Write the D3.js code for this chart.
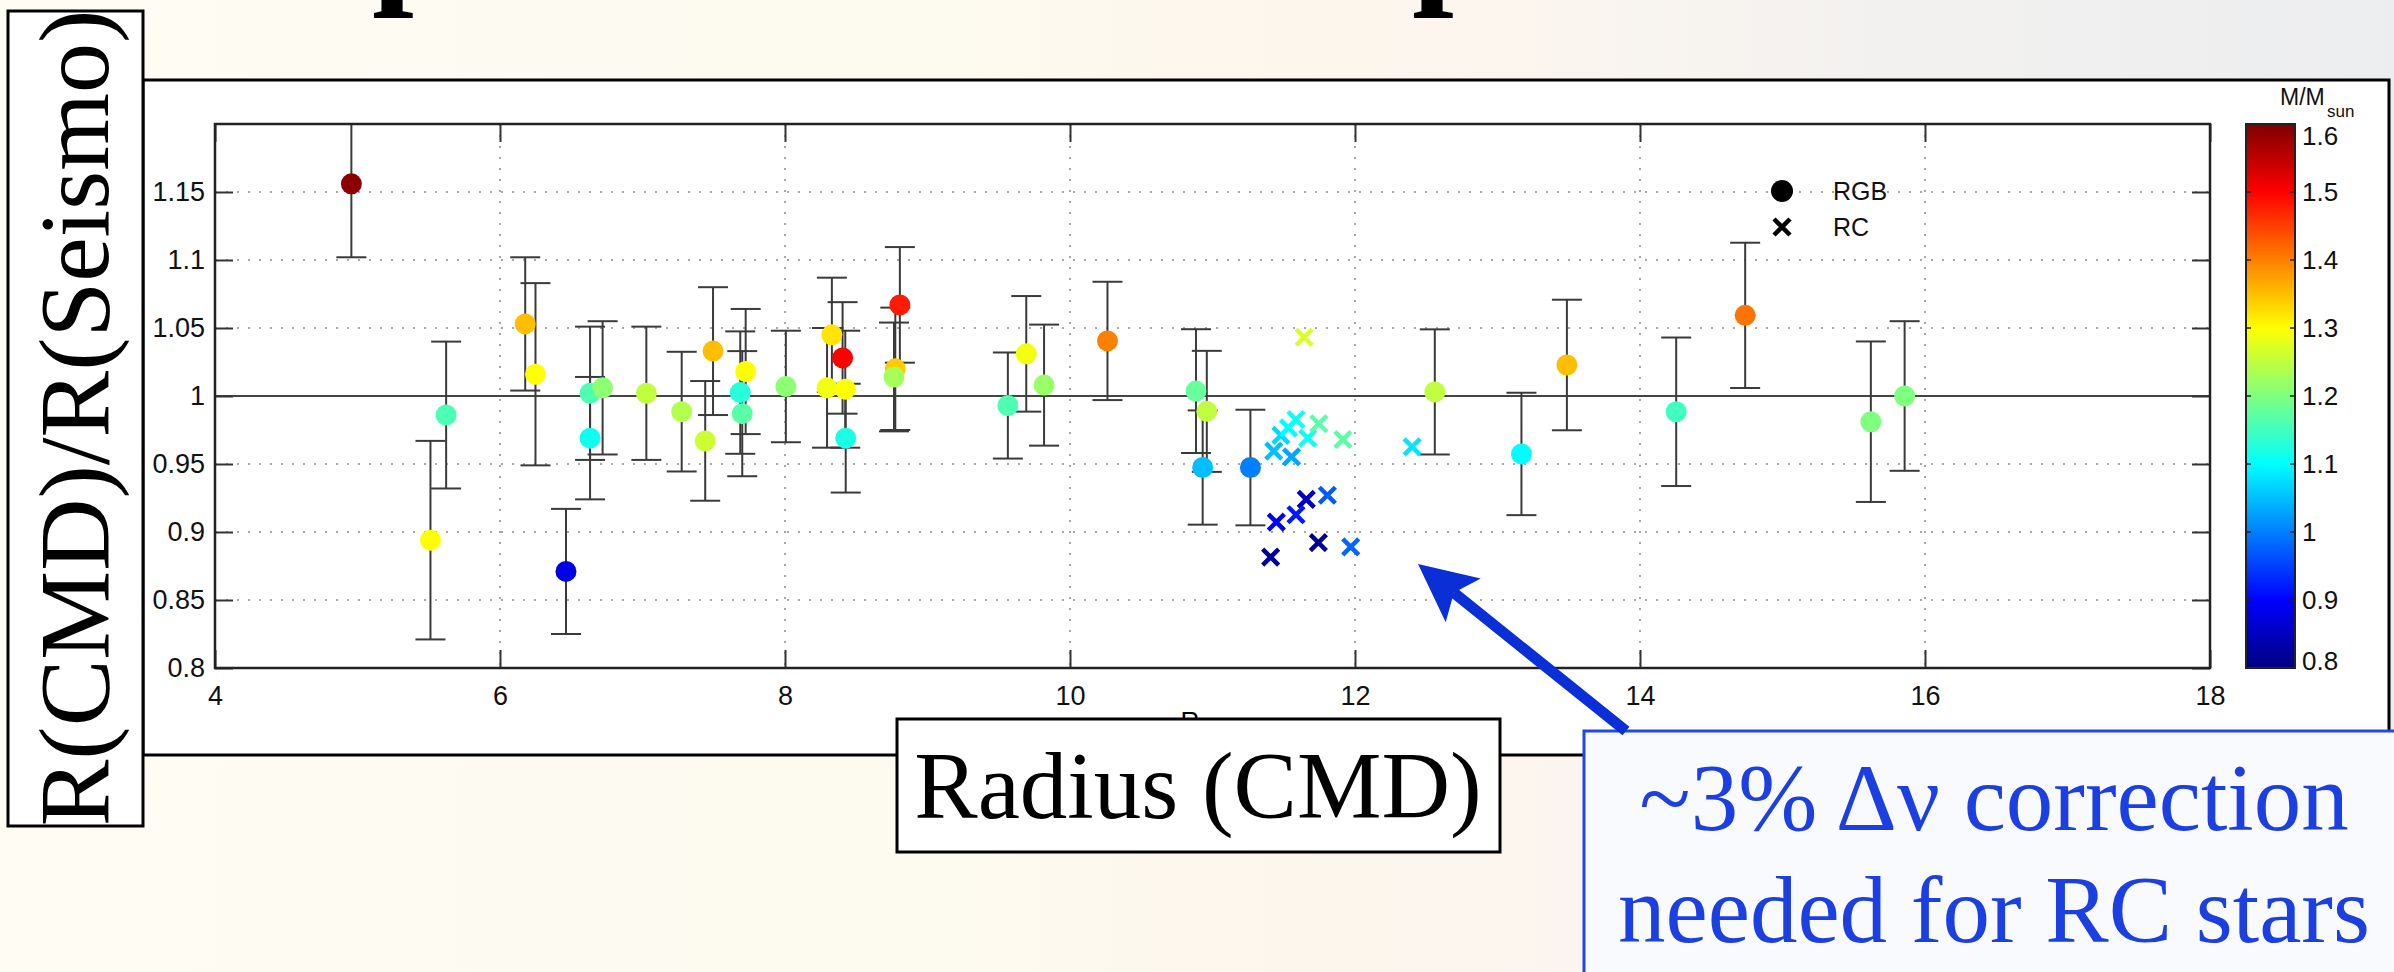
<!DOCTYPE html>
<html>
<head>
<meta charset="utf-8">
<script src="https://cdn.jsdelivr.net/npm/d3@7"></script>
<style>
html,body{margin:0;padding:0;overflow:hidden;background:#fdfbf3;}
svg{display:block;}
</style>
</head>
<body>
<svg id="chart" width="2394" height="972"></svg>
<script>
// ---------------- DATA ----------------
// RGB stars (filled circles with error bars)
const rgbRadius = [4.957, 5.622, 5.512, 6.177, 6.249, 6.463, 6.632, 6.632, 6.720, 7.027,
                   7.275, 7.440, 7.495, 7.724, 7.686, 7.700, 8.006, 8.295, 8.329, 8.404,
                   8.423, 8.426, 8.806, 8.774, 8.765, 9.564, 9.693, 9.818, 10.263, 10.884,
                   10.960, 10.931, 11.266, 12.560, 13.168, 13.487, 14.254, 14.738, 15.620, 15.857];
const rgbRatio  = [1.156, 0.986, 0.894, 1.053, 1.016, 0.871, 1.002, 0.969, 1.006, 1.002,
                   0.9885, 0.967, 1.033, 1.018, 1.0025, 0.987, 1.007, 1.006, 1.045, 1.028,
                   1.005, 0.969, 1.067, 1.020, 1.014, 0.993, 1.031, 1.008, 1.0405, 1.0036,
                   0.9887, 0.9474, 0.9474, 1.003, 0.9574, 1.0228, 0.9884, 1.0593, 0.9811, 1.000];
const rgbErr    = [0.054, 0.054, 0.073, 0.049, 0.067, 0.046, 0.049, 0.045, 0.049, 0.049,
                   0.044, 0.044, 0.047, 0.046, 0.045, 0.046, 0.041, 0.044, 0.042, 0.041,
                   0.043, 0.040, 0.0425, 0.045, 0.040, 0.039, 0.0425, 0.0445, 0.0435, 0.0455,
                   0.0445, 0.042, 0.0425, 0.046, 0.045, 0.048, 0.0546, 0.0534, 0.059, 0.055];
const rgbMass   = [1.59, 1.16, 1.30, 1.35, 1.30, 0.88, 1.16, 1.11, 1.21, 1.25,
                   1.24, 1.26, 1.35, 1.30, 1.13, 1.17, 1.21, 1.29, 1.32, 1.50,
                   1.30, 1.12, 1.48, 1.34, 1.23, 1.16, 1.29, 1.22, 1.40, 1.18,
                   1.25, 1.05, 1.00, 1.25, 1.10, 1.35, 1.15, 1.41, 1.20, 1.20];

// RC stars (crosses)
const rcRadius = [11.643, 11.430, 11.480, 11.533, 11.586, 11.555, 11.668, 11.746, 11.915,
                  12.401, 11.658, 11.806, 11.586, 11.448, 11.743, 11.970, 11.408];
const rcRatio  = [1.0432, 0.9595, 0.9711, 0.9766, 0.9827, 0.9553, 0.9690, 0.9796, 0.9680,
                  0.9626, 0.9240, 0.9270, 0.9127, 0.9073, 0.8922, 0.8891, 0.8815];
const rcMass   = [1.27, 1.05, 1.07, 1.10, 1.11, 1.03, 1.11, 1.17, 1.17,
                  1.08, 0.85, 0.97, 0.92, 0.89, 0.82, 0.98, 0.82];

// Axis ticks
const xTicks = [4, 6, 8, 10, 12, 14, 16, 18];
const yTicks = [0.8, 0.85, 0.9, 0.95, 1, 1.05, 1.1, 1.15];
const cbTicks = [0.8, 0.9, 1.0, 1.1, 1.2, 1.3, 1.4, 1.5, 1.6];
const legendLabels = ["RGB", "RC"];

// ---------------- SETUP ----------------
const svg = d3.select("#chart");
const W = 2394, H = 972;
const plot = {l: 215, r: 2210, t: 124, b: 668};

const x = d3.scaleLinear().domain([4, 18]).range([plot.l, plot.r]);
const y = d3.scaleLinear().domain([0.8, 1.2]).range([plot.b, plot.t]);
const massScale = d3.scaleLinear().domain([0.8, 1.6]).range([0, 1]);

// MATLAB "jet" colormap
const jetStops = [[0, "#000080"], [0.125, "#0000ff"], [0.375, "#00ffff"], [0.625, "#ffff00"], [0.875, "#ff0000"], [1, "#800000"]];
const jet = d3.scaleLinear().domain(jetStops.map(d => d[0])).range(jetStops.map(d => d[1])).interpolate(d3.interpolateRgb).clamp(true);
const massColor = m => jet(massScale(m));

const defs = svg.append("defs");

// Background gradient (slide background)
const bg = defs.append("linearGradient").attr("id", "bg").attr("x1", 0).attr("x2", 1).attr("y1", 0).attr("y2", 0);
[[0, "#fefcf3"], [0.4, "#fdfaf0"], [0.55, "#fdf6ec"], [0.65, "#fbf5ef"], [0.8, "#f2f1ef"], [1, "#ecedef"]]
  .forEach(s => bg.append("stop").attr("offset", s[0]).attr("stop-color", s[1]));
svg.append("rect").attr("width", W).attr("height", H).attr("fill", "url(#bg)");

// fragments of the slide title (cut off at the top)
svg.append("g").attr("font-family", "Liberation Serif, serif").attr("font-weight", "bold")
  .attr("font-size", 150).attr("fill", "#000")
  .selectAll("text").data([{x: 372, t: "p"}, {x: 1412, t: "p"}]).join("text")
  .attr("x", d => d.x).attr("y", -14).text(d => d.t);

// Main white panel
svg.append("rect").attr("x", 143).attr("y", 80).attr("width", 2246).attr("height", 675)
  .attr("fill", "#fff").attr("stroke", "#000").attr("stroke-width", 3);

// ---------------- PLOT ----------------
defs.append("clipPath").attr("id", "clipPlot").append("rect")
  .attr("x", plot.l).attr("y", plot.t).attr("width", plot.r - plot.l).attr("height", plot.b - plot.t);

const g = svg.append("g");

// dotted grid
g.append("g").selectAll("line").data(xTicks.filter(d => d > 4 && d < 18)).join("line")
  .attr("x1", d => x(d)).attr("x2", d => x(d)).attr("y1", plot.t).attr("y2", plot.b)
  .attr("stroke", "#8a8a8a").attr("stroke-width", 1.5).attr("stroke-dasharray", "2,9");
g.append("g").selectAll("line").data(yTicks.filter(d => d > 0.8 && d !== 1)).join("line")
  .attr("x1", plot.l).attr("x2", plot.r).attr("y1", d => y(d)).attr("y2", d => y(d))
  .attr("stroke", "#8a8a8a").attr("stroke-width", 1.5).attr("stroke-dasharray", "2,9");

// unity line
g.append("line").attr("x1", plot.l).attr("x2", plot.r).attr("y1", y(1)).attr("y2", y(1))
  .attr("stroke", "#444").attr("stroke-width", 2.2);

// axes with inward ticks on all sides
const tickLen = 18;
const axB = d3.axisBottom(x).tickValues(xTicks).tickSize(-tickLen).tickPadding(18).tickFormat(d3.format("d"));
const axT = d3.axisTop(x).tickValues(xTicks).tickSize(-tickLen).tickFormat("");
const axL = d3.axisLeft(y).tickValues(yTicks).tickSize(-tickLen).tickPadding(10).tickFormat(d => String(+d.toFixed(2)));
const axR = d3.axisRight(y).tickValues(yTicks).tickSize(-tickLen).tickFormat("");

function styleAxis(sel) {
  sel.select(".domain").remove();
  sel.selectAll(".tick line").attr("stroke", "#333").attr("stroke-width", 2);
  sel.selectAll("text").attr("font-family", "Liberation Sans, Arial, sans-serif").attr("font-size", 27).attr("fill", "#111");
}
g.append("g").attr("transform", `translate(0,${plot.b})`).call(axB).call(styleAxis);
g.append("g").attr("transform", `translate(0,${plot.t})`).call(axT).call(styleAxis);
g.append("g").attr("transform", `translate(${plot.l},0)`).call(axL).call(styleAxis);
g.append("g").attr("transform", `translate(${plot.r},0)`).call(axR).call(styleAxis);

// x-axis label (mostly hidden behind the "Radius (CMD)" box)
svg.append("text").attr("x", 1190).attr("y", 730).attr("text-anchor", "middle")
  .attr("font-family", "Liberation Sans, Arial, sans-serif").attr("font-size", 26).text("R");

// error bars
const rgb = rgbRadius.map((r, i) => ({r, v: rgbRatio[i], e: rgbErr[i], m: rgbMass[i]}));
const rc = rcRadius.map((r, i) => ({r, v: rcRatio[i], m: rcMass[i]}));

const eb = g.append("g").attr("clip-path", "url(#clipPlot)").attr("stroke", "#3a3a3a").attr("stroke-width", 2);
const capW = 15;
eb.selectAll("line.v").data(rgb).join("line").attr("class", "v")
  .attr("x1", d => x(d.r)).attr("x2", d => x(d.r)).attr("y1", d => y(d.v - d.e)).attr("y2", d => y(d.v + d.e));
eb.selectAll("line.lo").data(rgb).join("line").attr("class", "lo")
  .attr("x1", d => x(d.r) - capW).attr("x2", d => x(d.r) + capW).attr("y1", d => y(d.v - d.e)).attr("y2", d => y(d.v - d.e));
eb.selectAll("line.hi").data(rgb).join("line").attr("class", "hi")
  .attr("x1", d => x(d.r) - capW).attr("x2", d => x(d.r) + capW).attr("y1", d => y(d.v + d.e)).attr("y2", d => y(d.v + d.e));

// RGB points
g.append("g").selectAll("circle").data(rgb).join("circle")
  .attr("cx", d => x(d.r)).attr("cy", d => y(d.v)).attr("r", 10.5).attr("fill", d => massColor(d.m));

// RC crosses
const cs = 8;
const rcG = g.append("g").attr("stroke-width", 4.5).attr("stroke-linecap", "butt");
rcG.selectAll("path").data(rc).join("path")
  .attr("d", d => { const cx = x(d.r), cy = y(d.v);
    return `M${cx - cs},${cy - cs}L${cx + cs},${cy + cs}M${cx - cs},${cy + cs}L${cx + cs},${cy - cs}`; })
  .attr("stroke", d => massColor(d.m)).attr("fill", "none");

// frame
g.append("rect").attr("x", plot.l).attr("y", plot.t).attr("width", plot.r - plot.l).attr("height", plot.b - plot.t)
  .attr("fill", "none").attr("stroke", "#222").attr("stroke-width", 2.5);

// legend
const leg = g.append("g");
const legX = 1782, legY0 = 191, legDy = 36;
leg.append("circle").attr("cx", legX).attr("cy", legY0).attr("r", 11).attr("fill", "#000");
leg.append("path").attr("d", `M${legX - 8},${legY0 + legDy - 8}L${legX + 8},${legY0 + legDy + 8}M${legX - 8},${legY0 + legDy + 8}L${legX + 8},${legY0 + legDy - 8}`)
  .attr("stroke", "#000").attr("stroke-width", 4.5);
leg.selectAll("text").data(legendLabels).join("text")
  .attr("x", 1833).attr("y", (d, i) => legY0 + i * legDy + 9)
  .attr("font-family", "Liberation Sans, Arial, sans-serif").attr("font-size", 25).attr("fill", "#111").text(d => d);

// ---------------- COLORBAR ----------------
const cb = {l: 2246, r: 2295};
const cy = d3.scaleLinear().domain([0.8, 1.6]).range([plot.b, plot.t]);
const grad = defs.append("linearGradient").attr("id", "jet").attr("x1", 0).attr("x2", 0).attr("y1", 1).attr("y2", 0);
jetStops.forEach(s => grad.append("stop").attr("offset", s[0]).attr("stop-color", s[1]));
svg.append("rect").attr("x", cb.l).attr("y", plot.t).attr("width", cb.r - cb.l).attr("height", plot.b - plot.t)
  .attr("fill", "url(#jet)").attr("stroke", "#222").attr("stroke-width", 2);
const cbG = svg.append("g");
cbG.selectAll("line.l").data(cbTicks).join("line").attr("x1", cb.l).attr("x2", cb.l + 5)
  .attr("y1", d => cy(d)).attr("y2", d => cy(d)).attr("stroke", "#222").attr("stroke-width", 1.5);
cbG.selectAll("line.r").data(cbTicks).join("line").attr("x1", cb.r - 5).attr("x2", cb.r)
  .attr("y1", d => cy(d)).attr("y2", d => cy(d)).attr("stroke", "#222").attr("stroke-width", 1.5);
// end labels are nudged inside the bar's span, as in the reference
const cbLabelY = d => d === 1.6 ? cy(d) + 21 : d === 0.8 ? cy(d) + 2 : cy(d) + 9;
cbG.selectAll("text").data(cbTicks).join("text").attr("x", 2302).attr("y", cbLabelY)
  .attr("font-family", "Liberation Sans, Arial, sans-serif").attr("font-size", 26).attr("fill", "#111")
  .text(d => String(+d.toFixed(1)));
const cbT = svg.append("text").attr("font-family", "Liberation Sans, Arial, sans-serif").attr("fill", "#111");
cbT.append("tspan").attr("x", 2280).attr("y", 105).attr("font-size", 23).text("M/M");
cbT.append("tspan").attr("x", 2327).attr("y", 117).attr("font-size", 17).text("sun");

// ---------------- OVERLAY BOXES ----------------
// y-label box
svg.append("rect").attr("x", 8).attr("y", 11).attr("width", 135).attr("height", 815)
  .attr("fill", "#fff").attr("stroke", "#000").attr("stroke-width", 3);
svg.append("text").attr("transform", "translate(108,418) rotate(-90)").attr("text-anchor", "middle")
  .attr("font-family", "Liberation Serif, Times New Roman, serif").attr("font-size", 100).attr("fill", "#000")
  .text("R(CMD)/R(Seismo)");

// x-label box
svg.append("rect").attr("x", 897).attr("y", 719).attr("width", 603).attr("height", 133)
  .attr("fill", "#fff").attr("stroke", "#000").attr("stroke-width", 3);
svg.append("text").attr("x", 1198).attr("y", 818).attr("text-anchor", "middle")
  .attr("font-family", "Liberation Serif, Times New Roman, serif").attr("font-size", 95).attr("fill", "#000")
  .text("Radius (CMD)");

// annotation box
svg.append("rect").attr("x", 1584).attr("y", 731).attr("width", 830).attr("height", 260)
  .attr("fill", "#f9fafe").attr("stroke", "#2347e6").attr("stroke-width", 3);
const ann = svg.append("text").attr("text-anchor", "middle")
  .attr("font-family", "Liberation Serif, Times New Roman, serif").attr("font-size", 95).attr("fill", "#1c3fe2");
ann.append("tspan").attr("x", 1994).attr("y", 830).text("~3% \u0394\u03bd correction");
ann.append("tspan").attr("x", 1994).attr("y", 942).text("needed for RC stars");

// arrow
const tip = [1418, 564], tail = [1626, 731];
const len = Math.hypot(tip[0] - tail[0], tip[1] - tail[1]);
const u = [(tip[0] - tail[0]) / len, (tip[1] - tail[1]) / len];
const n = [-u[1], u[0]];
const headLen = 58, hw = 28, notch = 12;
const base = [tip[0] - u[0] * headLen, tip[1] - u[1] * headLen];
const nb = [tip[0] - u[0] * (headLen - notch), tip[1] - u[1] * (headLen - notch)];
svg.append("line").attr("x1", tail[0]).attr("y1", tail[1]).attr("x2", nb[0]).attr("y2", nb[1])
  .attr("stroke", "#0b2fd6").attr("stroke-width", 11);
svg.append("path").attr("d", `M${tip[0]},${tip[1]}L${base[0] + n[0] * hw},${base[1] + n[1] * hw}L${nb[0]},${nb[1]}L${base[0] - n[0] * hw},${base[1] - n[1] * hw}Z`)
  .attr("fill", "#0b2fd6");
</script>
</body>
</html>
